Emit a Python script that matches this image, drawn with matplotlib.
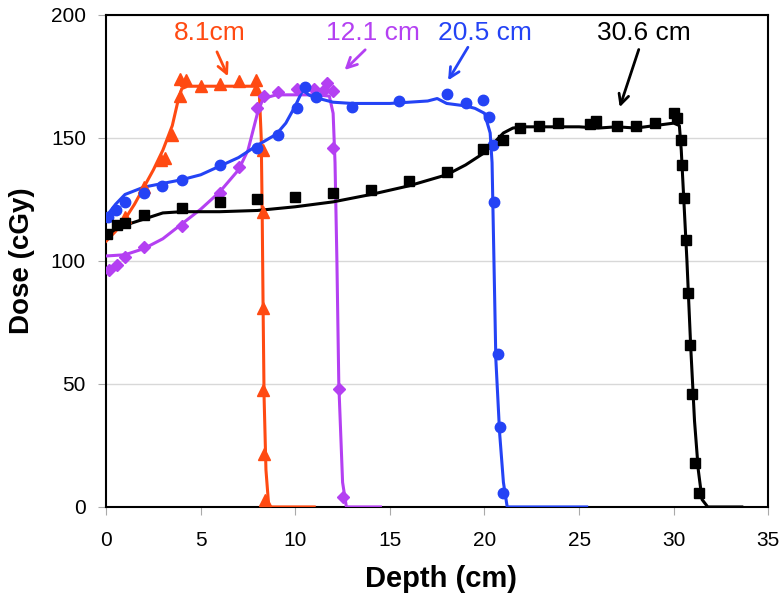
import matplotlib
matplotlib.use("Agg")
import matplotlib.pyplot as plt

plt.rcParams['font.family'] = ['Liberation Sans', 'DejaVu Sans']

# ---- data ----
# 8.1 cm
r1_line_x = [0, 0.5, 1, 1.5, 2, 2.5, 3, 3.5, 3.8, 4.0, 4.3, 5, 6, 7, 7.9, 8.1, 8.2, 8.25, 8.3, 8.35, 8.45, 8.6, 11.0]
r1_line_y = [108, 112, 117, 123, 130, 137, 145, 155, 165, 170, 171, 171, 171, 171, 171, 168, 150, 120, 80, 45, 15, 0, 0]
r1_pts_x = [1.0, 2.0, 2.9, 3.1, 3.5, 3.9, 3.9, 4.2, 5.0, 6.0, 7.0, 7.9, 7.9, 8.3, 8.3, 8.3, 8.3, 8.35, 8.4]
r1_pts_y = [118, 130, 141, 142, 151, 167, 174, 173.5, 171, 172, 173, 173.5, 170, 145, 120, 81, 47.6, 21.5, 3]

# 12.1 cm
r2_line_x = [0, 1, 2, 3, 4, 5, 6, 7, 7.5, 8, 8.3, 9, 11, 11.8, 12.0, 12.1, 12.2, 12.3, 12.5, 12.7, 14.5]
r2_line_y = [102, 102.5, 105, 109, 115, 121, 128, 137, 145, 160, 166, 167.5, 167.5, 167, 160, 140, 100, 50, 10, 0, 0]
r2_pts_x = [0.15, 0.6, 1.0, 2.0, 4.0, 6.0, 7.0, 8.0, 8.35, 9.1, 10.1, 11.0, 11.5, 11.7, 12.0, 12.0, 12.3, 12.5]
r2_pts_y = [96.5, 98.5, 101.5, 105.5, 114, 127.5, 138, 162, 167, 168.5, 170, 170, 169.5, 172.5, 169, 146, 48, 4]

# 20.5 cm
r3_line_x = [0, 0.5, 1, 2, 3, 4, 5, 6, 7, 8, 9, 9.5, 10, 10.4, 10.7, 11, 12, 13, 15, 16, 17, 17.5, 18, 19, 19.5, 20, 20.3, 20.4, 20.5, 20.6, 20.8, 21.0, 21.2, 25.4]
r3_line_y = [118, 123, 127, 130, 131.5, 133, 135, 138.5, 142, 147, 151.5, 156, 163, 169.5, 167.5, 166.5, 164.5, 164, 164, 164.5, 165, 166, 164, 163, 162, 160, 152, 140, 100, 60, 30, 10, 0, 0]
r3_pts_x = [0.1, 0.5, 1.0, 2.0, 2.95, 4.0, 6.0, 8.0, 9.1, 10.1, 10.5, 11.1, 13.0, 15.5, 18.0, 19.0, 19.9, 20.25, 20.45, 20.5, 20.7, 20.8, 21.0]
r3_pts_y = [118, 120.5, 124, 127.5, 130.5, 133, 139, 146, 151, 162, 170.5, 166.5, 162.5, 165, 168, 164, 165.5, 158.5, 147, 124, 62, 32.5, 5.5]

# 30.6 cm
r4_line_x = [0, 0.5, 1, 2, 3, 4, 5, 6, 8, 10, 12, 14, 16, 18, 19, 20, 20.5, 21, 21.5, 22, 25, 26, 27, 28, 29, 30, 30.3, 30.4, 30.5, 30.7, 30.9, 31.1, 31.3, 31.5, 31.8, 33.6]
r4_line_y = [110, 113, 114.5, 117, 119.5, 120, 120, 120, 120.5, 122, 124, 127, 130.5, 135, 139, 144, 148, 152, 154, 154.5, 154.5, 154, 154.5, 154, 155, 156, 155, 145, 130, 100, 65, 35, 15, 3, 0, 0]
r4_pts_x = [0.05, 0.6, 1.0, 2.0, 4.0, 6.0, 8.0, 10.0, 12.0, 14.0, 16.0, 18.0, 19.9, 21.0, 21.9, 22.9, 23.9, 25.6, 25.9, 27.0, 28.0, 29.0, 30.0, 30.2, 30.4, 30.45, 30.55, 30.65, 30.75, 30.85, 30.97, 31.13, 31.35]
r4_pts_y = [111, 114.5, 115.5, 118.5, 121.5, 124, 125, 126, 127.5, 129, 132.5, 136, 145.5, 149, 154, 155, 156, 155.5, 157, 155, 155, 156, 160, 158, 149, 139, 125.5, 108.5, 87, 66, 46, 18, 5.5]

labels = ["8.1cm", "12.1 cm", "20.5 cm", "30.6 cm"]
colors = ["#FF4A12", "#B440F2", "#2443F5", "#000000"]

fig = plt.figure(figsize=(7.8, 5.95), dpi=100)
ax = fig.add_axes([0.136, 0.148, 0.849, 0.827])

series = [
    (r1_line_x, r1_line_y, r1_pts_x, r1_pts_y, '^', 8),
    (r2_line_x, r2_line_y, r2_pts_x, r2_pts_y, 'D', 6),
    (r3_line_x, r3_line_y, r3_pts_x, r3_pts_y, 'o', 7.5),
    (r4_line_x, r4_line_y, r4_pts_x, r4_pts_y, 's', 7.5),
]
for (lx, ly, px, py, mk, ms), c in zip(series, colors):
    ax.plot(lx, ly, color=c, lw=2.2, zorder=3)
    ax.plot(px, py, linestyle='none', marker=mk, ms=ms, color=c, mec=c, zorder=4)

ax.set_xlim(0, 35)
ax.set_ylim(0, 200)
ax.set_xticks(range(0, 36, 5))
ax.set_yticks(range(0, 201, 50))
ax.grid(axis='y', color='#d8d8d8', lw=1)
ax.set_axisbelow(True)
for s in ax.spines.values():
    s.set_linewidth(1.5)
ax.tick_params(axis='both', labelsize=15, direction='out', length=5.5, color='#aaaaaa')
ax.tick_params(axis='x', pad=12)
ax.tick_params(axis='y', pad=9)
ax.set_xlabel("Depth (cm)", fontsize=21, fontweight='bold')
ax.set_ylabel("Dose (cGy)", fontsize=20, fontweight='bold')
ax.xaxis.set_label_coords(0.505, -0.118)
ax.yaxis.set_label_coords(-0.108, 0.5)

# annotations
ann = [
    ("8.1cm", (5.5, 192.7), (5.8, 186), (6.5, 174)),
    ("12.1 cm", (14.1, 192.7), (13.8, 186.6), (12.5, 176.8)),
    ("20.5 cm", (20.0, 192.7), (19.2, 187.8), (18.0, 172.4)),
    ("30.6 cm", (28.4, 192.7), (28.2, 187), (27.1, 161.4)),
]
for (txt, tpos, tail, tip), c in zip(ann, colors):
    ax.text(tpos[0], tpos[1], txt, color=c, fontsize=19, ha='center', va='center', zorder=5)
    ax.annotate("", xy=tip, xytext=tail,
                arrowprops=dict(arrowstyle='->', color=c, lw=2, mutation_scale=18), zorder=5)

fig.savefig("out.png", dpi=100)
